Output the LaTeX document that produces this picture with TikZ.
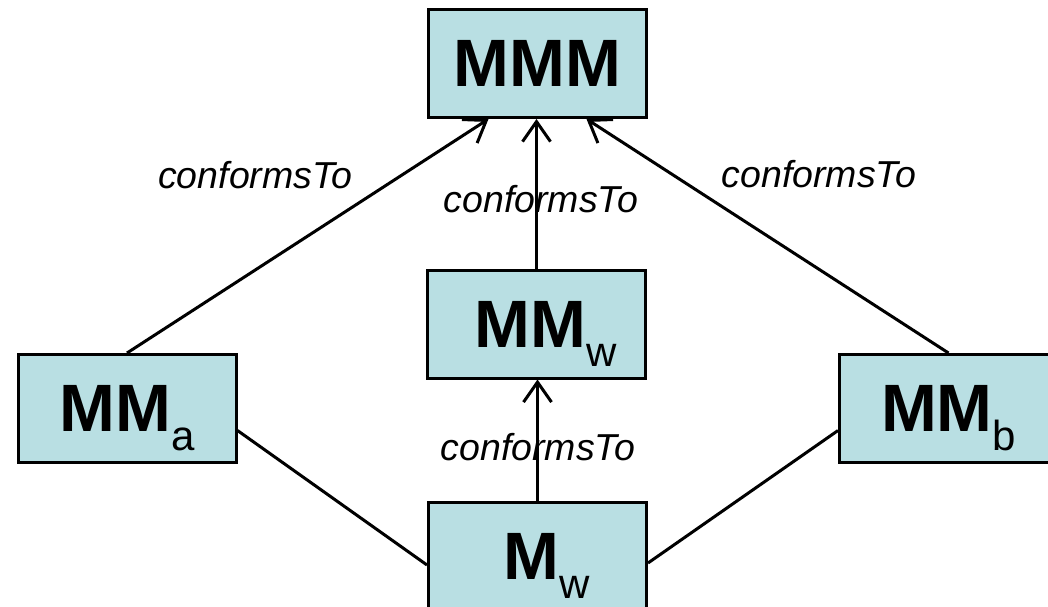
\documentclass[tikz,border=0pt]{standalone}
\usepackage{fontspec}
\setmainfont{Liberation Sans}
\usetikzlibrary{arrows.meta}
\definecolor{boxfill}{RGB}{185,223,227}
\newcommand\boxsub[1]{\smash{\raisebox{-19pt}{\fontsize{42}{42}\selectfont\mdseries #1}}}
\begin{document}
\begin{tikzpicture}[x=1pt,y=-1pt,
  box/.style={draw=black, line width=3pt, fill=boxfill, rectangle, inner sep=0pt,
    minimum width=218pt, minimum height=108pt, font=\fontsize{67}{70}\selectfont\bfseries},
  lbl/.style={font=\fontsize{37.5}{40}\selectfont\itshape, anchor=base, inner sep=0pt},
  conn/.style={line width=3pt},
  arr/.style={conn, -{Straight Barb[length=20pt,width=28pt]}}]
\useasboundingbox (0,0) rectangle (1048,606);
\clip (0,0) rectangle (1048,606);
\fill[white] (0,0) rectangle (1048,606);

\node[box] (MMM) at (537.5,63.5) {MMM};
\node[box] (MMw) at (536.5,324) {\hspace*{18pt}MM\boxsub{w}};
\node[box] (MMa) at (127,408.5) {MM\boxsub{a}};
\node[box] (MMb) at (948.5,408.5) {MM\boxsub{b}};
\node[box] (Mw) at (537.5,556) {\hspace*{18pt}M\boxsub{w}};

\draw[arr] (MMa.north) -- ([xshift=-49pt]MMM.south);
\draw[arr] (MMb.north) -- ([xshift=49pt]MMM.south);
\draw[arr] (MMw.north) -- (MMw.north |- MMM.south);
\draw[arr] (Mw.north) -- (Mw.north |- MMw.south);
\draw[conn] ([yshift=-22pt]MMa.east) -- ([yshift=-9pt]Mw.west);
\draw[conn] ([yshift=-22pt]MMb.west) -- ([yshift=-7pt]Mw.east);

\node[lbl] (c1) at (255.5,188) {conformsTo};
\node[lbl] (c2) at (541,212) {conformsTo};
\node[lbl] (c3) at (819,187) {conformsTo};
\node[lbl] (c4) at (538,460) {conformsTo};
\end{tikzpicture}
\end{document}
